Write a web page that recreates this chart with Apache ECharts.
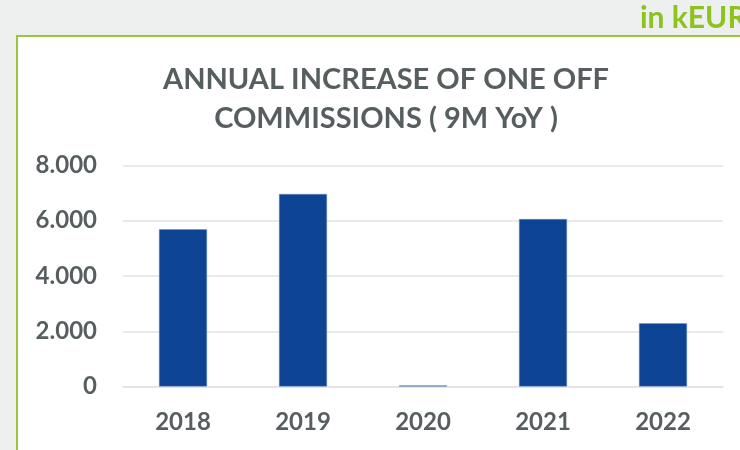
<!DOCTYPE html>
<html>
<head>
<meta charset="utf-8">
<script src="https://cdn.jsdelivr.net/npm/echarts@6/dist/echarts.min.js"></script>
<style>
html,body{margin:0;padding:0;background:#eef0ef;}
#c{width:740px;height:450px;}
</style>
</head>
<body>
<div id="c"></div>
<script>
var categories = ['2018', '2019', '2020', '2021', '2022'];
var values = [5690, 6970, 40, 6060, 2290];
var yTicks = [0, 2000, 4000, 6000, 8000];
var titleLines = ['ANNUAL INCREASE OF ONE OFF', 'COMMISSIONS ( 9M YoY )'];
var unitLabel = 'in kEUR';

var chart = echarts.init(document.getElementById('c'));
function fmt(v){ return v === 0 ? '0' : String(v).replace(/(\d)(?=(\d{3})+$)/g, '$1.'); }
chart.setOption({
  backgroundColor: '#eef0ef',
  animation: false,
  graphic: [
    { type: 'rect', z: -10, shape: { x: 17, y: 36, width: 740, height: 430 },
      style: { fill: '#ffffff', stroke: '#9cc63a', lineWidth: 2 } },
    { type: 'text', left: 640, top: 3,
      style: { text: unitLabel, fill: '#8dc21f', font: 'bold 30px Lato' } }
  ],
  title: {
    text: titleLines.join('\n'),
    left: 381, top: 55, textAlign: 'center',
    textStyle: { fontFamily: 'Lato', fontWeight: 'bold', fontSize: 29, color: '#575e60', lineHeight: 39 }
  },
  grid: { left: 123, right: 17, top: 165.5, bottom: 63.5, containLabel: false },
  xAxis: {
    type: 'category', data: categories,
    axisLine: { show: true, lineStyle: { color: '#e3e3e3', width: 1.5 } },
    axisTick: { show: false },
    axisLabel: { margin: 24, fontFamily: 'Lato', fontWeight: 'bold', fontSize: 24, color: '#575e60' }
  },
  yAxis: {
    type: 'value', min: yTicks[0], max: yTicks[yTicks.length-1], interval: 2000,
    axisLine: { show: false }, axisTick: { show: false },
    splitLine: { lineStyle: { color: '#e3e3e3', width: 1.5 } },
    axisLabel: { margin: 26, fontFamily: 'Lato', fontWeight: 'bold', fontSize: 24, color: '#575e60', formatter: fmt }
  },
  series: [{
    type: 'bar', data: values, barWidth: '40%',
    itemStyle: { color: '#0c4493', borderColor: '#6f8fc0', borderWidth: 0.5 }
  }]
});
</script>
</body>
</html>
